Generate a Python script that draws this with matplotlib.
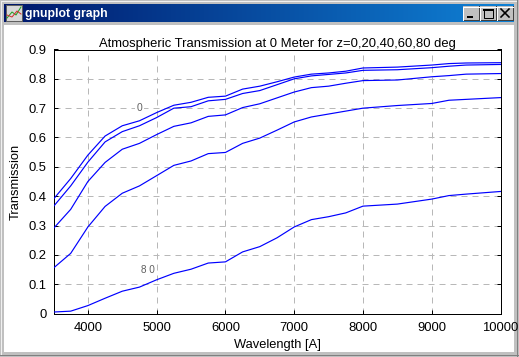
import numpy as np
import matplotlib
matplotlib.use('Agg')
import matplotlib.pyplot as plt
from matplotlib.patches import Rectangle

plt.rcParams['font.family'] = ['Liberation Sans', 'DejaVu Sans']

wave = [3500, 3750, 4000, 4250, 4500, 4750, 5000, 5250, 5500, 5750, 6000, 6250,
        6500, 6750, 7000, 7250, 7500, 7750, 8000, 8500, 9000, 9250, 9500, 10000]
z0 = [0.39, 0.46, 0.54, 0.605, 0.64, 0.657, 0.685, 0.71, 0.72, 0.737, 0.741, 0.765,
      0.775, 0.79, 0.806, 0.816, 0.82, 0.826, 0.837, 0.84, 0.847, 0.852, 0.854, 0.855]
z20 = [0.365, 0.435, 0.516, 0.585, 0.62, 0.64, 0.668, 0.70, 0.705, 0.725, 0.73, 0.75,
       0.76, 0.78, 0.80, 0.81, 0.815, 0.82, 0.829, 0.831, 0.838, 0.843, 0.847, 0.849]
z40 = [0.29, 0.355, 0.45, 0.515, 0.56, 0.58, 0.61, 0.638, 0.65, 0.672, 0.677, 0.702,
       0.715, 0.735, 0.755, 0.77, 0.775, 0.785, 0.794, 0.796, 0.807, 0.811, 0.816, 0.818]
z60 = [0.155, 0.205, 0.295, 0.365, 0.41, 0.435, 0.47, 0.505, 0.52, 0.545, 0.549, 0.58,
       0.598, 0.625, 0.653, 0.67, 0.68, 0.69, 0.70, 0.709, 0.716, 0.727, 0.73, 0.736]
z80 = [0.005, 0.008, 0.027, 0.052, 0.076, 0.09, 0.115, 0.137, 0.151, 0.172, 0.176, 0.21,
       0.228, 0.258, 0.295, 0.32, 0.33, 0.343, 0.366, 0.373, 0.39, 0.402, 0.407, 0.416]
series = [z0, z20, z40, z60, z80]

xticks = [4000, 5000, 6000, 7000, 8000, 9000, 10000]
yticks = [0, 0.1, 0.2, 0.3, 0.4, 0.5, 0.6, 0.7, 0.8, 0.9]
ylabels = ['0', '0.1', '0.2', '0.3', '0.4', '0.5', '0.6', '0.7', '0.8', '0.9']

W, H = 519, 357
PX = 0.72  # one pixel, in points
fig = plt.figure(figsize=(W / 100, H / 100), dpi=100, facecolor='#c0c0c0')

# window frame, in pixels
bg = fig.add_axes([0, 0, 1, 1])
bg.set_xlim(0, W)
bg.set_ylim(H, 0)
bg.axis('off')
bg.add_patch(Rectangle((0, 0), W, H, fc='#c0c0c0', ec='none'))
bg.add_patch(Rectangle((1, 1), W - 2, H - 2, fc='#f0f0f0', ec='none'))
bg.add_patch(Rectangle((W - 2, 0), 1, H, fc='#808080', ec='none'))
bg.add_patch(Rectangle((0, H - 2), W, 1, fc='#808080', ec='none'))
bg.add_patch(Rectangle((2, 2), W - 4, H - 4, fc='#c0c0c0', ec='none'))
bg.add_patch(Rectangle((4, 25), W - 9, H - 30, fc='white', ec='none'))

# title bar
grad = np.linspace(0, 1, 256).reshape(1, -1, 1)
grad = np.concatenate([0.0 + 0.06 * grad, 0.09 + 0.42 * grad, 0.42 + 0.42 * grad], axis=2)
bg.imshow(grad, extent=(4, W - 5, 22, 4), aspect='auto', interpolation='bilinear', zorder=1)
bg.set_xlim(0, W)
bg.set_ylim(H, 0)
bg.text(25, 13.5, 'gnuplot graph', color='white', fontsize=8.8, fontweight='bold',
        va='center', ha='left', zorder=3)

# small icon
bg.add_patch(Rectangle((6, 5), 16, 16, fc='#d8d8d8', ec='#606060', lw=PX, zorder=3))
bg.plot([7, 12, 16, 21], [18, 12, 15, 7], color='#20a020', lw=PX, zorder=4)
bg.plot([7, 12, 17, 21], [15, 17, 11, 14], color='#d03030', lw=PX, zorder=4)

# window buttons
for bx in [463, 480, 497]:
    w = 16
    bg.add_patch(Rectangle((bx, 6), w, 14, fc='#c0c0c0', ec='none', zorder=3))
    bg.plot([bx, bx + w, bx + w], [19.5, 19.5, 6], color='#404040', lw=PX, zorder=4)
    bg.plot([bx, bx, bx + w], [20, 6.5, 6.5], color='white', lw=PX, zorder=4)
bg.plot([467, 473], [17, 17], color='black', lw=2 * PX, solid_capstyle='butt', zorder=5)
bg.add_patch(Rectangle((483.5, 8.5), 9, 9, fc='none', ec='black', lw=PX, zorder=5))
bg.plot([483.5, 492.5], [9.5, 9.5], color='black', lw=2 * PX, zorder=5)
bg.plot([501, 509], [9, 17], color='black', lw=1.6 * PX, zorder=5)
bg.plot([509, 501], [9, 17], color='black', lw=1.6 * PX, zorder=5)

# plot area
left, right, top, bottom = 53.5, 500.5, 49.5, 313.5
ax = fig.add_axes([left / W, 1 - bottom / H, (right - left) / W, (bottom - top) / H])
ax.set_facecolor('white')
for s in series:
    ax.plot(wave, s, color='#0000ff', lw=0.85, zorder=3)
ax.set_xlim(3500, 10000)
ax.set_ylim(0, 0.9)
ax.set_xticks(xticks)
ax.set_yticks(yticks)
ax.set_yticklabels(ylabels)
ax.grid(True, color='#b8b8b8', linestyle=(0, (6, 5)), lw=PX)
ax.set_axisbelow(True)
ax.tick_params(axis='both', direction='in', length=3, width=PX, labelsize=9.4, pad=5,
               right=True, top=False, color='black')
ax.tick_params(axis='x', pad=6)
for sp in ax.spines.values():
    sp.set_linewidth(PX)
    sp.set_color('black')
ax.set_xlabel('Wavelength [A]', fontsize=9.3, labelpad=4)
ax.set_ylabel('Transmission', fontsize=9.3, labelpad=5)
ax.set_title('Atmospheric Transmission at 0 Meter for z=0,20,40,60,80 deg',
             fontsize=9.4, pad=1)

ax.text(4750, 0.70, '0', color='#606060', fontsize=7.5, ha='center', va='center',
        bbox=dict(fc='white', ec='none', pad=1.5))
ax.text(4870, 0.148, '8 0', color='#606060', fontsize=7.2, ha='center', va='center')

fig.savefig('out.png', dpi=100, facecolor=fig.get_facecolor())
